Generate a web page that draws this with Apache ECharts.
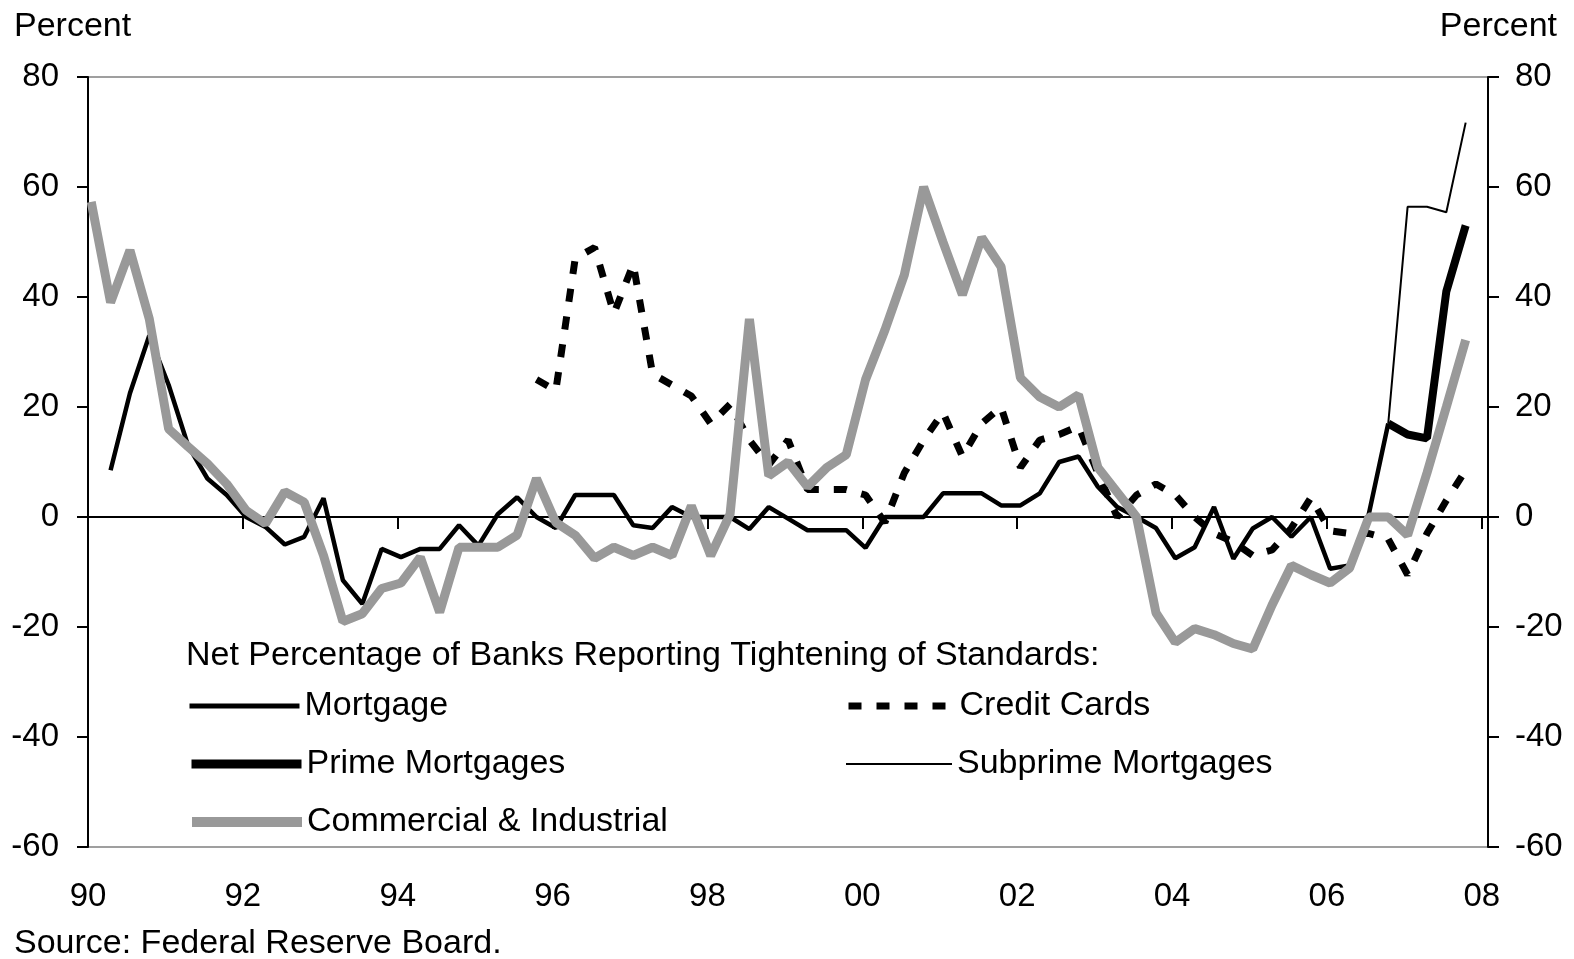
<!DOCTYPE html>
<html>
<head>
<meta charset="utf-8">
<script src="https://cdn.jsdelivr.net/npm/echarts@6/dist/echarts.min.js"></script>
<style>
html,body{margin:0;padding:0;background:#fff;}
#c{width:1574px;height:959px;}
</style>
</head>
<body>
<div id="c"></div>
<script>
// Quarterly survey dates, 1990Q1 .. 2007Q4
const quarters = [];
for (let y = 1990; y <= 2007; y++) for (let q = 1; q <= 4; q++) quarters.push(y + 'Q' + q);

const mortgage = [null, 8.5, 22.5, 33, 24, 13, 7, 4, 0, -1.8, -5, -3.6,
  3.4, -11.5, -15.8, -5.8, -7.3, -5.8, -5.8, -1.5, -5.2, 0.5, 3.6, 0,
  -2, 4, 4, 4, -1.5, -2, 1.8, 0, 0, 0, -2.2, 1.8,
  -0.3, -2.4, -2.4, -2.4, -5.6, 0, 0, 0, 4.3, 4.3, 4.3, 2.1,
  2.1, 4.3, 10, 11, 5.5, 1.8, 0, -2, -7.5, -5.5, 1.8, -7.6,
  -2.1, 0, -3.6, 0, -9.4, -8.8, 0.6, 17, null, null, null, null];

const creditCards = [null, null, null, null, null, null, null, null, null, null, null, null,
  null, null, null, null, null, null, null, null, null, null, null, 25,
  23, 47, 49, 37, 46, 26, 24, 22, 17, 20.5, 14, 9.5,
  14, 5, 5, 5, 4, -1, 8, 14, 19, 11, 17, 20,
  9, 14, 15, 16.5, 8, 0, 4, 6, 4, 0, -3, -4.5,
  -7, -6, -2, 3.5, -2.5, -3, -3, -4, -10.5, -3, 3, 8.5];

const primeMortgages = [null, null, null, null, null, null, null, null, null, null, null, null,
  null, null, null, null, null, null, null, null, null, null, null, null,
  null, null, null, null, null, null, null, null, null, null, null, null,
  null, null, null, null, null, null, null, null, null, null, null, null,
  null, null, null, null, null, null, null, null, null, null, null, null,
  null, null, null, null, null, null, null, 17, 15, 14.3, 41, 53];

const subprimeMortgages = [null, null, null, null, null, null, null, null, null, null, null, null,
  null, null, null, null, null, null, null, null, null, null, null, null,
  null, null, null, null, null, null, null, null, null, null, null, null,
  null, null, null, null, null, null, null, null, null, null, null, null,
  null, null, null, null, null, null, null, null, null, null, null, null,
  null, null, null, null, null, null, null, 17, 56.4, 56.4, 55.4, 71.7];

const commercialIndustrial = [57.3, 39, 48.5, 36, 16, 12.8, 9.7, 6, 1.2, -1.2, 4.6, 2.7,
  -7, -19, -17.6, -13, -12, -7.3, -17.3, -5.5, -5.5, -5.5, -3.3, 7,
  -1, -3.3, -7.5, -5.5, -7, -5.5, -7, 2, -7, 0.5, 36, 7.5,
  10, 5.5, 9, 11.3, 25, 34, 44, 60, 50, 40.4, 50.8, 45.5,
  25.3, 21.8, 20, 22.2, 9, 4.5, 0, -17.4, -22.8, -20.3, -21.4, -23,
  -24, -16, -8.8, -10.5, -12, -9.3, 0, 0, -3.3, 8, 20, 32.2];

const yTicks = [-60, -40, -20, 0, 20, 40, 60, 80];
const xTickYears = [1990, 1992, 1994, 1996, 1998, 2000, 2002, 2004, 2006, 2008];

function qPos(label) {
  const y = parseInt(label.slice(0, 4), 10);
  const q = parseInt(label.slice(5), 10);
  return y + (q - 1) / 4 + 1 / 24;
}
function pairs(arr) {
  return arr.map((v, i) => [qPos(quarters[i]), v]);
}

const FONT = "'Liberation Sans', Arial, Helvetica, sans-serif";
const FS = 33;   // tick labels
const TFS = 34;  // other text

const chart = echarts.init(document.getElementById('c'));

function legendFor(name, left, top, itemWidth, width) {
  return {
    data: [name],
    left: left, top: top,
    padding: 0,
    itemWidth: itemWidth, itemHeight: 14,
    selectedMode: false,
    itemStyle: { opacity: 0, borderWidth: 0 },
    lineStyle: { width: width },
    textStyle: { fontSize: TFS, color: '#000', fontFamily: FONT, lineHeight: 40 }
  };
}

const lastX = qPos(quarters[quarters.length - 1]);

chart.setOption({
  animation: false,
  backgroundColor: '#fff',
  grid: {
    left: 88, top: 77, width: 1400, height: 770,
    show: true, borderColor: '#808080', borderWidth: 1.5, backgroundColor: 'transparent'
  },
  xAxis: {
    type: 'value', min: 1990, max: 2008.08, interval: 2,
    axisLine: { lineStyle: { color: '#000', width: 2 } },
    axisTick: { show: true, inside: false, length: 12, lineStyle: { color: '#000', width: 2 },
      customValues: xTickYears },
    axisLabel: {
      fontSize: FS, color: '#000', fontFamily: FONT, margin: 33,
      customValues: xTickYears,
      formatter: function (v) {
        const r = Math.round(v);
        if (Math.abs(v - r) > 1e-6 || xTickYears.indexOf(r) < 0) return '';
        return String(r % 100).padStart(2, '0');
      }
    },
    splitLine: { show: false }
  },
  yAxis: [{
    type: 'value', min: -60, max: 80, interval: 20, position: 'left',
    axisLine: { show: true, lineStyle: { color: '#000', width: 2 } },
    axisTick: { show: true, inside: false, length: 11, lineStyle: { color: '#000', width: 2 } },
    axisLabel: { fontSize: FS, color: '#000', fontFamily: FONT, margin: 29,
      formatter: v => yTicks.indexOf(v) >= 0 ? String(v) : '' },
    splitLine: { show: false }
  }, {
    type: 'value', min: -60, max: 80, interval: 20, position: 'right',
    axisLine: { show: true, lineStyle: { color: '#000', width: 2 } },
    axisTick: { show: true, inside: false, length: 11, lineStyle: { color: '#000', width: 2 } },
    axisLabel: { fontSize: FS, color: '#000', fontFamily: FONT, margin: 27,
      formatter: v => yTicks.indexOf(v) >= 0 ? String(v) : '' },
    splitLine: { show: false }
  }],
  legend: [
    legendFor('Mortgage', 187, 686, 110, 5),
    legendFor('Prime Mortgages', 187, 744, 110, 9),
    legendFor('Commercial & Industrial', 187, 802, 110, 10),
    legendFor('Credit Cards', 845, 686, 106, 7),
    legendFor('Subprime Mortgages', 845, 744, 106, 2)
  ],
  graphic: [
    { type: 'text', left: 14, top: 10, style: { text: 'Percent', font: TFS + 'px ' + FONT, fill: '#000' } },
    { type: 'text', right: 17, top: 10, style: { text: 'Percent', font: TFS + 'px ' + FONT, fill: '#000' } },
    { type: 'text', left: 186, top: 639, style: { text: 'Net Percentage of Banks Reporting Tightening of Standards:', font: TFS + 'px ' + FONT, fill: '#000' } },
    { type: 'text', left: 14, top: 927, style: { text: 'Source: Federal Reserve Board.', font: TFS + 'px ' + FONT, fill: '#000' } }
  ],
  series: [
    {
      name: 'Mortgage', type: 'line', data: pairs(mortgage), showSymbol: false, symbol: 'none',
      lineStyle: { color: '#000', width: 4.5 }, itemStyle: { color: '#000' }, z: 2,
      markLine: {
        silent: true, symbol: 'none', label: { show: false },
        lineStyle: { color: '#000', width: 1.5, type: 'solid' },
        data: [[{ coord: [1990, 0] }, { coord: [lastX, 0] }]]
      }
    },
    {
      name: 'Credit Cards', type: 'line', data: pairs(creditCards), showSymbol: false, symbol: 'none',
      lineStyle: { color: '#000', width: 7, type: [13, 15] }, itemStyle: { color: '#000' }, z: 3
    },
    {
      name: 'Subprime Mortgages', type: 'line', data: pairs(subprimeMortgages), showSymbol: false, symbol: 'none',
      lineStyle: { color: '#000', width: 2 }, itemStyle: { color: '#000' }, z: 4
    },
    {
      name: 'Prime Mortgages', type: 'line', data: pairs(primeMortgages), showSymbol: false, symbol: 'none',
      lineStyle: { color: '#000', width: 8 }, itemStyle: { color: '#000' }, z: 5
    },
    {
      name: 'Commercial & Industrial', type: 'line', data: pairs(commercialIndustrial), showSymbol: false, symbol: 'none',
      lineStyle: { color: '#999999', width: 9 }, itemStyle: { color: '#999999' }, z: 6
    }
  ]
});
</script>
</body>
</html>
